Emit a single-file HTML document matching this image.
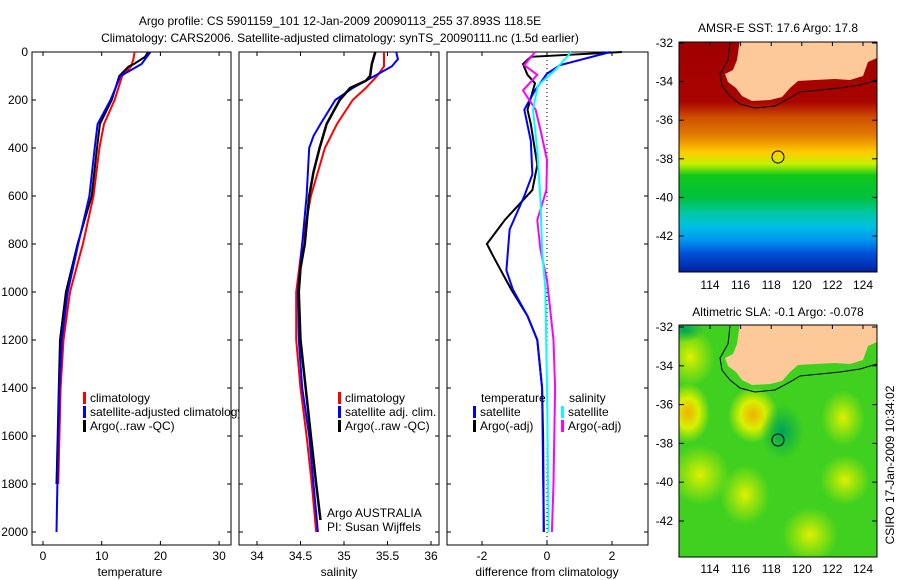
<!DOCTYPE html>
<html><head><meta charset="utf-8"><style>
body{margin:0;background:#fff;}
svg{display:block;font-family:"Liberation Sans",sans-serif;font-size:12px;}
</style></head><body>
<svg id="fig" width="900" height="580" viewBox="0 0 900 580">
<defs>
<linearGradient id="sstg" gradientUnits="userSpaceOnUse" x1="0" y1="42" x2="0" y2="272">
<stop offset="0" stop-color="#a00000"/><stop offset="0.26" stop-color="#a80400"/>
<stop offset="0.33" stop-color="#d05000"/><stop offset="0.40" stop-color="#e07800"/>
<stop offset="0.44" stop-color="#f0a000"/><stop offset="0.48" stop-color="#ffcc00"/>
<stop offset="0.53" stop-color="#c8f000"/><stop offset="0.58" stop-color="#10c818"/>
<stop offset="0.68" stop-color="#00c040"/><stop offset="0.74" stop-color="#00c8a0"/>
<stop offset="0.80" stop-color="#00c0e0"/><stop offset="0.86" stop-color="#0098f0"/>
<stop offset="0.92" stop-color="#0050d8"/><stop offset="1" stop-color="#0020a0"/>
</linearGradient>
<radialGradient id="bo"><stop offset="0" stop-color="#f0b000"/><stop offset="0.5" stop-color="#d8f000"/><stop offset="1" stop-color="#d8f000" stop-opacity="0"/></radialGradient>
<radialGradient id="by"><stop offset="0" stop-color="#e0f000"/><stop offset="1" stop-color="#d0f000" stop-opacity="0"/></radialGradient>
<radialGradient id="bt"><stop offset="0" stop-color="#00a060"/><stop offset="1" stop-color="#00b040" stop-opacity="0"/></radialGradient>
<clipPath id="c1"><rect x="679" y="42" width="198" height="230"/></clipPath>
<clipPath id="c2"><rect x="679" y="325" width="198" height="232"/></clipPath>
</defs>
<text x="340" y="25" text-anchor="middle">Argo profile: CS 5901159_101 12-Jan-2009 20090113_255 37.893S 118.5E</text>
<text x="340" y="42" text-anchor="middle">Climatology: CARS2006. Satellite-adjusted climatology: synTS_20090111.nc (1.5d earlier)</text>
<g id="plots"></g>
<g id="maps">
<g>
<rect x="679" y="42" width="198" height="230" fill="url(#sstg)"/>
<g clip-path="url(#c1)">
<polygon fill="#fdc998" points="740,40 877,40 877,58 868,62 863,76 850,80 835,79 815,80 798,81 790,88 782,97 770,100 752,101 742,96 736,88 728,82 725,74 733,70 737,60 739,46"/>
<polyline fill="none" stroke="#000" stroke-width="1" points="877,80 860,85 840,88 820,90 800,92 790,98 775,106 755,108 740,104 730,96 722,86 720,74 728,60 730,42"/>
</g>
<rect x="679" y="42" width="198" height="230" fill="none" stroke="#000"/>
<circle cx="778" cy="157" r="6" fill="none" stroke="#000"/>
</g>
<g>
<rect x="679" y="325" width="198" height="232" fill="#40d020"/>
<g clip-path="url(#c2)">
<ellipse cx="690" cy="357" rx="25" ry="30" fill="url(#by)"/>
<ellipse cx="688" cy="413" rx="22" ry="30" fill="url(#bo)"/>
<ellipse cx="753" cy="415" rx="25" ry="28" fill="url(#bo)"/>
<ellipse cx="843" cy="418" rx="22" ry="28" fill="url(#by)"/>
<ellipse cx="700" cy="475" rx="30" ry="30" fill="url(#by)"/>
<ellipse cx="745" cy="495" rx="25" ry="30" fill="url(#by)"/>
<ellipse cx="810" cy="535" rx="28" ry="28" fill="url(#by)"/>
<ellipse cx="845" cy="480" rx="25" ry="25" fill="url(#by)"/>
<ellipse cx="782" cy="432" rx="22" ry="28" fill="url(#bt)"/>
<ellipse cx="685" cy="330" rx="20" ry="12" fill="url(#bt)"/>
<g transform="translate(0,284)">
<polygon fill="#fdc998" points="740,38 877,38 877,58 868,62 863,76 850,80 835,79 815,80 798,81 790,88 782,97 770,100 752,101 742,96 736,88 728,82 725,74 733,70 737,60 739,46"/>
<polyline fill="none" stroke="#000" stroke-width="1" points="877,80 860,85 840,88 820,90 800,92 790,98 775,106 755,108 740,104 730,96 722,86 720,74 728,60 730,42"/>
</g>
</g>
<rect x="679" y="325" width="198" height="232" fill="none" stroke="#000"/>
<circle cx="778" cy="440" r="6" fill="none" stroke="#000"/>
</g>
<text x="778" y="32" text-anchor="middle">AMSR-E SST: 17.6 Argo: 17.8</text>
<text x="778" y="316" text-anchor="middle">Altimetric SLA: -0.1 Argo: -0.078</text>
<text transform="translate(894,465) rotate(-90)" text-anchor="middle">CSIRO 17-Jan-2009 10:34:02</text>
</g>
</svg>
<script>
const depthTicks=[0,200,400,600,800,1000,1200,1400,1600,1800,2000];
const tempTicks=[0,10,20,30];
const salTicks=[34,34.5,35,35.5,36];
const difTicks=[-2,0,2];
const latTicks=[-32,-34,-36,-38,-40,-42];
const lonTicks=[114,116,118,120,122,124];
const tArgoD=[0,20,50,60,100,200,300,400,600,800,1000,1200,1400,1600,1800];
const tArgoV=[17.9,17.4,15.5,14.6,13.0,11.7,9.7,9.2,8.3,5.9,3.9,2.9,2.7,2.5,2.3];
const tClimD=[0,30,60,100,200,300,400,600,800,1000,1200,1400,1600,1800];
const tClimV=[15.6,15.4,15.0,13.5,12.2,10.4,9.6,8.6,6.8,4.6,3.5,3.0,2.8,2.6];
const tAdjD=[0,50,100,200,300,400,600,800,1000,1200,1400,1600,2000];
const tAdjV=[18.3,16.8,13.2,11.5,9.3,8.8,7.9,6.0,4.2,3.2,2.8,2.6,2.3];
const sArgoD=[0,50,100,120,150,200,300,400,500,600,800,900,1000,1200,1400,1600,1800,1950];
const sArgoV=[35.36,35.32,35.3,35.25,35.07,34.95,34.8,34.72,34.65,34.6,34.55,34.5,34.48,34.5,34.56,34.62,34.68,34.73];
const sClimD=[0,60,100,150,200,300,400,600,800,1000,1200,1400,1600,1800,2000];
const sClimV=[35.46,35.46,35.38,35.25,35.1,34.92,34.78,34.62,34.52,34.45,34.45,34.5,34.57,34.63,34.68];
const sAdjD=[0,30,60,100,150,200,300,350,400,600,800,1000,1200,1400,1600,1800,2000];
const sAdjV=[35.6,35.62,35.55,35.35,35.1,34.9,34.73,34.65,34.6,34.57,34.52,34.47,34.48,34.52,34.6,34.65,34.7];
const dTArgoD=[0,20,50,95,130,240,300,470,575,700,800,865,990,1100,1200,1400,1600,2000];
const dTArgoV=[2.3,-0.5,-0.74,-0.6,-0.37,-0.6,-0.5,-0.3,-0.45,-1.3,-1.85,-1.6,-1.1,-0.6,-0.3,-0.15,-0.12,-0.1];
const dTSatD=[0,55,90,160,240,370,510,600,740,910,990,1100,1200,1400,2000];
const dTSatV=[1.95,0.4,0,-0.37,-0.7,-0.5,-0.45,-0.7,-1.15,-1.25,-1.05,-0.6,-0.3,-0.15,-0.1];
const dSSatD=[0,75,140,240,410,620,825,990,1400,2000];
const dSSatV=[0.75,0.25,-0.28,-0.43,-0.3,-0.2,-0.15,-0.05,0,0.05];
const dSArgoD=[0,55,95,160,240,325,450,575,700,825,950,1200,1400,1800,2000];
const dSArgoV=[-0.37,-0.7,-0.3,-0.74,-0.35,-0.2,0,-0.02,-0.3,-0.2,0,0.2,0.25,0.2,0.15];

const NS='http://www.w3.org/2000/svg';
const root=document.getElementById('plots');
function mk(tag,attrs,parent){const e=document.createElementNS(NS,tag);for(const k in attrs)e.setAttribute(k,attrs[k]);(parent||root).appendChild(e);return e;}
const Y0=52,YK=0.24,TOP=52,BOT=545;
function yD(d){return Y0+d*YK;}
const panels=[
 {x0:32,x1:231,xs:v=>43+5.87*v,ticks:tempTicks,label:'temperature',name:'temperature-panel',lx:130},
 {x0:239,x1:439,xs:v=>257+87*(v-34),ticks:salTicks,label:'salinity',name:'salinity-panel',lx:339},
 {x0:447,x1:648,xs:v=>547+32.5*v,ticks:difTicks,label:'difference from climatology',name:'difference-panel',lx:547}
];
panels.forEach((p,i)=>{
 const g=mk('g',{});
 
 
 p.g=g;
 mk('rect',{x:p.x0,y:TOP,width:p.x1-p.x0,height:BOT-TOP,fill:'#fff',stroke:'#000'},g);
 depthTicks.forEach(d=>{
  mk('line',{x1:p.x0,x2:p.x0+4,y1:yD(d),y2:yD(d),stroke:'#000'},g);
  mk('line',{x1:p.x1-4,x2:p.x1,y1:yD(d),y2:yD(d),stroke:'#000'},g);
 });
 p.ticks.forEach(t=>{
  const x=p.xs(t);
  mk('line',{x1:x,x2:x,y1:BOT,y2:BOT-4,stroke:'#000'},g);
  mk('line',{x1:x,x2:x,y1:TOP,y2:TOP+4,stroke:'#000'},g);
  const tx=mk('text',{x:x,y:BOT+15,'text-anchor':'middle'},g);tx.textContent=String(t);
  
  
 });
 const xl=mk('text',{x:p.lx,y:576,'text-anchor':'middle'},g);xl.textContent=p.label;
 
 
});
depthTicks.forEach(d=>{const t=mk('text',{x:28,y:yD(d)+4,'text-anchor':'end'});t.textContent=String(d);
 
 });
function line(p,D,V,color,w,name){
 const pts=D.map((d,i)=>p.xs(V[i]).toFixed(1)+','+yD(d).toFixed(1)).join(' ');
 const l=mk('polyline',{points:pts,fill:'none',stroke:color,'stroke-width':w},p.g);
 
 
}
line(panels[0],tClimD,tClimV,'#f00',2,'temp-climatology-line');
line(panels[0],tArgoD,tArgoV,'#000',2,'temp-argo-line');
line(panels[0],tAdjD,tAdjV,'#00f',2,'temp-satellite-adjusted-line');
line(panels[1],sClimD,sClimV,'#f00',2,'sal-climatology-line');
line(panels[1],sAdjD,sAdjV,'#00f',2,'sal-satellite-adjusted-line');
line(panels[1],sArgoD,sArgoV,'#000',2.5,'sal-argo-line');
const zx=panels[2].xs(0);
mk('line',{x1:zx,x2:zx,y1:TOP,y2:BOT,stroke:'#000','stroke-dasharray':'1,3'},panels[2].g);
line(panels[2],dTArgoD,dTArgoV,'#000',2,'diff-temp-argo-line');
line(panels[2],dTSatD,dTSatV,'#00f',2,'diff-temp-satellite-line');
line(panels[2],dSArgoD,dSArgoV,'#f0f',2,'diff-sal-argo-line');
line(panels[2],dSSatD,dSSatV,'#0ff',2,'diff-sal-satellite-line');
function leg(g,x,y,color,text,name){
 const e=mk('g',{},g);
 
 
 if(color)mk('rect',{x:x,y:y-10,width:3,height:12,fill:color},e);
 const t=mk('text',{x:x+7,y:y},e);t.textContent=text;
}
leg(panels[0].g,83,402,'#f00','climatology','legend-climatology');
leg(panels[0].g,83,416,'#00f','satellite-adjusted climatology','legend-satellite-adjusted');
leg(panels[0].g,83,430,'#000','Argo(..raw -QC)','legend-argo');
root.insertBefore(panels[0].g,panels[1].g);
leg(panels[1].g,338,402,'#f00','climatology','legend-climatology-2');
leg(panels[1].g,338,416,'#00f','satellite adj. clim.','legend-satellite-adj-2');
leg(panels[1].g,338,430,'#000','Argo(..raw -QC)','legend-argo-2');
const a1=mk('text',{x:327,y:517},panels[1].g);a1.textContent='Argo AUSTRALIA';


const a2=mk('text',{x:327,y:531},panels[1].g);a2.textContent='PI: Susan Wijffels';


leg(panels[2].g,474,402,null,'temperature','legend-temperature-heading');
leg(panels[2].g,473,416,'#00f','satellite','legend-temp-satellite');
leg(panels[2].g,473,430,'#000','Argo(-adj)','legend-temp-argo');
leg(panels[2].g,562,402,null,'salinity','legend-salinity-heading');
leg(panels[2].g,561,416,'#0ff','satellite','legend-sal-satellite');
leg(panels[2].g,561,430,'#f0f','Argo(-adj)','legend-sal-argo');
const mg=document.getElementById('maps');
function mapAxes(top,latY0,latK,labY){
 latTicks.forEach(l=>{const y=latY0+(-32-l)*latK;
  mk('line',{x1:679,x2:684,y1:y,y2:y,stroke:'#000'},mg);
  mk('line',{x1:872,x2:877,y1:y,y2:y,stroke:'#000'},mg);
  const t=mk('text',{x:673,y:y+4,'text-anchor':'end'},mg);t.textContent=String(l);
  
  });
 lonTicks.forEach(l=>{const x=710+(l-114)*15.3;
  mk('line',{x1:x,x2:x,y1:top,y2:top+4,stroke:'#000'},mg);
  const t=mk('text',{x:x,y:labY,'text-anchor':'middle'},mg);t.textContent=String(l);
  
  });
}
mapAxes(42,43,19.3,289);
mapAxes(325,327,19.4,573);
</script>
</body></html>
